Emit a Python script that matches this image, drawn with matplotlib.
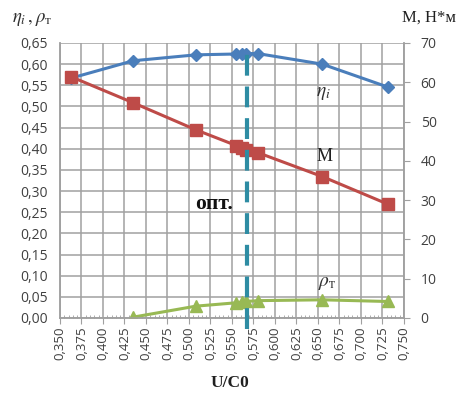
import matplotlib
matplotlib.use("Agg")
import matplotlib.pyplot as plt
from matplotlib.ticker import MultipleLocator, FuncFormatter

plt.rcParams["mathtext.fontset"] = "stix"

# data
u_c0 = [0.363, 0.435, 0.508, 0.555, 0.562, 0.566, 0.580, 0.655, 0.731]
eta = [0.567, 0.608, 0.622, 0.624, 0.625, 0.625, 0.625, 0.600, 0.546]
moment = [61.4, 54.8, 47.9, 43.9, 43.3, 42.8, 42.1, 36.0, 29.0]
u_rho = [0.435, 0.508, 0.555, 0.562, 0.566, 0.580, 0.655, 0.731]
rho = [0.002, 0.028, 0.036, 0.038, 0.039, 0.041, 0.043, 0.039]
u_opt = 0.567

xticks = [0.350 + 0.025 * i for i in range(17)]
yticks_left = [0.05 * i for i in range(14)]
yticks_right = [0, 10, 20, 30, 40, 50, 60, 70]

blue = "#4A7EBB"
red = "#BE4B48"
green = "#98B954"
teal = "#2E8CA3"
grid = "#A0A0A0"
tickc = "#404040"

fig = plt.figure(figsize=(4.6, 3.97), dpi=100)
ax = fig.add_axes([0.1304, 0.199, 0.7478, 0.6927])
ax2 = ax.twinx()

ax.set_xlim(0.350, 0.750)
ax.set_ylim(0, 0.65)
ax2.set_ylim(0, 70)

ax.set_xticks(xticks)
ax.set_yticks(yticks_left)
ax2.set_yticks(yticks_right)
ax.xaxis.set_minor_locator(MultipleLocator(0.005))

ax.grid(True, which="major", color=grid, lw=1.1)
ax.set_axisbelow(True)

fmt3 = FuncFormatter(lambda v, p: f"{v:.3f}".replace(".", ","))
fmt2 = FuncFormatter(lambda v, p: f"{v:.2f}".replace(".", ","))
ax.xaxis.set_major_formatter(fmt3)
ax.yaxis.set_major_formatter(fmt2)

tfont = "Open Sans"
for lab in ax.get_xticklabels():
    lab.set_rotation(90)
ax.tick_params(axis="x", which="major", length=4, color=grid, labelsize=9.5,
               labelcolor=tickc, pad=2, direction="out")
ax.tick_params(axis="x", which="minor", length=2, color=grid, direction="in")
ax.tick_params(axis="y", length=0, labelsize=10, labelcolor=tickc, pad=9)
ax2.tick_params(axis="y", length=4, color=grid, labelsize=10, labelcolor=tickc, pad=8)
for lab in ax.get_xticklabels() + ax.get_yticklabels() + ax2.get_yticklabels():
    lab.set_family(tfont)

for a in (ax, ax2):
    for s in a.spines.values():
        s.set_color(grid)
        s.set_linewidth(1.1)
    a.spines["top"].set_visible(False)

# series
ax.plot(u_c0, eta, color=blue, lw=2.2, marker="D", ms=6.5, zorder=5)
ax2.plot(u_c0, moment, color=red, lw=2.2, marker="s", ms=8.5, zorder=5)
ax.plot(u_rho, rho, color=green, lw=2.2, marker="^", ms=8.5, zorder=5)

ax2.axvline(u_opt, ymin=-0.04, ymax=0.975, color=teal, lw=3, ls=(0, (5, 2.6)),
            clip_on=False, zorder=6)

# annotations
ax.text(0.648, 0.525, r"$\eta_i$", fontsize=14, color="#303030")
ax.text(0.648, 0.37, "М", fontsize=13, family="Liberation Serif", color="#202020")
ax.text(0.650, 0.075, r"$\rho_{\mathrm{т}}$", fontsize=14, color="#303030")
ax.text(0.507, 0.258, "опт.", fontsize=15.5, family="Liberation Serif",
        fontweight="bold", color="#111111")

fig.text(0.025, 0.945, r"$\eta_i\,,\rho_{\mathrm{т}}$", fontsize=13.5, color="#303030")
fig.text(0.992, 0.945, "М, Н*м", fontsize=12, family="Liberation Serif",
         color="#202020", ha="right")
fig.text(0.50, 0.025, "U/C0", fontsize=12.5, family="Liberation Serif",
         fontweight="bold", color="#202020", ha="center")

fig.savefig("out.png", dpi=100, facecolor="white")
